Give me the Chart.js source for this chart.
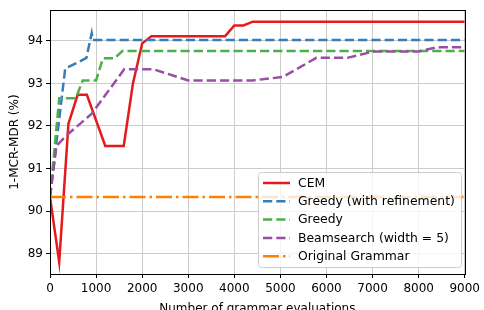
<!DOCTYPE html>
<html>
<head>
<meta charset="utf-8">
<script src="https://cdn.jsdelivr.net/npm/chart.js@4/dist/chart.umd.min.js"></script>
<style>
  html, body { margin: 0; padding: 0; background: #fff; overflow: hidden; }
  #wrap { position: relative; width: 484px; height: 316px; }
</style>
</head>
<body>
<div id="wrap"><canvas id="chart" width="484" height="316"></canvas></div>
<script>
// values
const xTicks = [0, 1000, 2000, 3000, 4000, 5000, 6000, 7000, 8000, 9000];
const yTicks = [89, 90, 91, 92, 93, 94];

const cemX = [0, 200, 400, 600, 800, 1200, 1600, 1800, 2000, 2200, 3800, 4000, 4200, 4400, 9000];
const cemY = [90.33, 88.8, 92.05, 92.73, 92.73, 91.53, 91.53, 93.0, 93.94, 94.11, 94.11, 94.36, 94.36, 94.45, 94.45];

const refineX = [0, 330, 620, 790, 905, 930, 9000];
const refineY = [90.33, 93.35, 93.5, 93.6, 94.18, 94.02, 94.02];

const greedyX = [0, 200, 560, 710, 1000, 1150, 1400, 1570, 9000];
const greedyY = [90.33, 92.65, 92.65, 93.07, 93.07, 93.59, 93.59, 93.76, 93.76];

const beamX = [0, 140, 340, 900, 1610, 2250, 3000, 4400, 5050, 5780, 6450, 7030, 8000, 8400, 9000];
const beamY = [90.33, 91.53, 91.76, 92.28, 93.33, 93.33, 93.07, 93.07, 93.15, 93.6, 93.6, 93.75, 93.75, 93.85, 93.85];

const origX = [0, 9000];
const origY = [90.33, 90.33];

const pts = (xs, ys) => xs.map((x, i) => ({ x, y: ys[i] }));
const FONT = 'DejaVu Sans';

const frame = {
  id: 'frame',
  afterDatasetsDraw(chart) {
    const { ctx, chartArea: a } = chart;
    ctx.save();
    ctx.strokeStyle = '#000';
    ctx.lineWidth = 1;
    ctx.strokeRect(Math.round(a.left) + 0.5, Math.round(a.top) + 0.5, Math.round(a.right - a.left), Math.round(a.bottom - a.top));
    ctx.restore();
  }
};

const boxLegend = {
  id: 'boxLegend',
  afterDatasetsDraw(chart) {
    const ctx = chart.ctx;
    ctx.save();
    ctx.beginPath();
    ctx.roundRect(258.5, 172.5, 203, 95, 3);
    ctx.fillStyle = 'rgba(255,255,255,0.8)';
    ctx.fill();
    ctx.strokeStyle = '#cccccc';
    ctx.lineWidth = 1;
    ctx.stroke();
    ctx.font = `12.4px "${FONT}"`;
    ctx.textBaseline = 'middle';
    chart.data.datasets.forEach((ds, i) => {
      const y = 183 + i * 18.3;
      ctx.strokeStyle = ds.borderColor;
      ctx.lineWidth = ds.borderWidth;
      ctx.setLineDash(ds.borderDash || []);
      ctx.beginPath();
      ctx.moveTo(263, y);
      ctx.lineTo(290, y);
      ctx.stroke();
      ctx.fillStyle = '#000';
      ctx.fillText(ds.label, 298, y + 0.5);
    });
    ctx.restore();
  }
};

const line = (label, xs, ys, color, dash, order) => ({
  label, data: pts(xs, ys), borderColor: color, backgroundColor: color,
  borderWidth: 2.5, borderDash: dash, pointRadius: 0, tension: 0, order
});

new Chart(document.getElementById('chart'), {
  type: 'line',
  data: {
    datasets: [
      line('CEM', cemX, cemY, '#e41a1c', [], 5),
      line('Greedy (with refinement)', refineX, refineY, '#377eb8', [9.25, 4], 4),
      line('Greedy', greedyX, greedyY, '#4daf4a', [9.25, 4], 3),
      line('Beamsearch (width = 5)', beamX, beamY, '#984ea3', [9.25, 4], 2),
      line('Original Grammar', origX, origY, '#ff7f00', [16, 4, 2.5, 4], 1),
    ]
  },
  options: {
    responsive: false,
    animation: false,
    devicePixelRatio: 1,
    layout: { padding: { top: 3, right: 16, left: 0, bottom: 0 } },
    plugins: { legend: { display: false }, tooltip: { enabled: false } },
    scales: {
      x: {
        type: 'linear', min: 0, max: 9000,
        afterBuildTicks: s => { s.ticks = xTicks.map(v => ({ value: v })); },
        afterFit: s => { s.height = 42; },
        ticks: { color: '#000', font: { family: FONT, size: 12 }, padding: 4, maxRotation: 0, autoSkip: false, callback: v => String(v) },
        grid: { color: '#cccccc', tickColor: '#000', tickLength: 4, lineWidth: 1 },
        border: { color: '#000', width: 1 },
        title: { display: true, text: 'Number of grammar evaluations', color: '#000', font: { family: FONT, size: 12 }, padding: { top: 0, bottom: 0 } }
      },
      y: {
        type: 'linear', min: 88.52, max: 94.72,
        afterBuildTicks: s => { s.ticks = yTicks.map(v => ({ value: v })); },
        afterFit: s => { s.width = 50; },
        ticks: { color: '#000', font: { family: FONT, size: 12 }, padding: 3, autoSkip: false, callback: v => String(v) },
        grid: { color: '#cccccc', tickColor: '#000', tickLength: 4, lineWidth: 1 },
        border: { color: '#000', width: 1 },
        title: { display: true, text: '1-MCR-MDR (%)', color: '#000', font: { family: FONT, size: 12 }, padding: { top: 8, bottom: 0 } }
      }
    }
  },
  plugins: [frame, boxLegend]
});
</script>
</body>
</html>
